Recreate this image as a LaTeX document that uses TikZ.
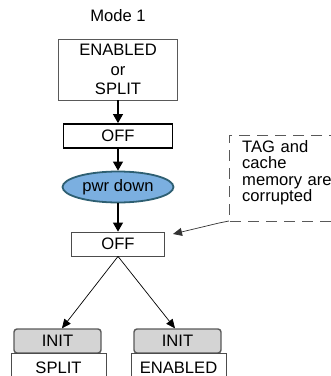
\documentclass[tikz,border=0pt]{standalone}
\usepackage{fontspec}
\setmainfont{Liberation Sans}
\usetikzlibrary{shapes.geometric,arrows.meta}
\definecolor{ellfill}{HTML}{7BAFE0}
\definecolor{elldraw}{HTML}{2E5F72}
\definecolor{initfill}{HTML}{D4D4D4}
\begin{document}
\begin{tikzpicture}[x=1pt,y=-1pt,
  every node/.style={font=\fontsize{16.6}{19.5}\selectfont, inner sep=0pt, align=center},
  grbox/.style={draw=black!65, line width=0.9pt, minimum height=0pt},
  offbox/.style={draw=black, line width=1.8pt},
  thinbox/.style={draw=black!70, line width=0.8pt},
  initbox/.style={draw=black!65, fill=initfill, rounded corners=3pt, line width=1.4pt},
  flow/.style={-{Triangle[length=9pt,width=10pt]}, line width=1.1pt},
  thinarr/.style={-{Triangle[length=9pt,width=8pt]}, line width=0.7pt}]
\useasboundingbox (0,0) rectangle (331,376);
\node (mode) at (118,16) {Mode 1};
\node[grbox, minimum width=119pt, minimum height=61pt] (top) at (118,69.5) {ENABLED\\or\\SPLIT};
\node[offbox, minimum width=109pt, minimum height=24pt] (off1) at (118,136) {OFF};
\node[ellipse, draw=elldraw, fill=ellfill, line width=1.8pt, minimum width=111pt, minimum height=31pt] (pwr) at (118,187) {pwr down};
\node[thinbox, minimum width=93pt, minimum height=24pt] (off2) at (118,244) {OFF};
\draw[dashed, dash pattern=on 11pt off 7pt, draw=black!65, line width=0.9pt] (340,135) -- (229,135) -- (229,221) -- (340,221);
\node[align=left, anchor=north west, text width=100pt, font=\fontsize{16.6}{16.5}\selectfont] (note) at (242,140) {TAG and\\cache\\memory are\\corrupted};
\coordinate (notec) at (229,221);
\coordinate (tip) at (173,234);
\draw[thinarr, draw=black!80] (notec) -- (219,223) -- (tip);
\node[initbox, minimum width=87pt, minimum height=24pt] (init1) at (57.5,341) {INIT};
\node[initbox, minimum width=87pt, minimum height=24pt] (init2) at (177.5,341) {INIT};
\node[thinbox, minimum width=95pt, minimum height=30pt, anchor=north] (split) at (58.5,353) {};
\node[anchor=base] at (58.5,373) {SPLIT};
\node[thinbox, minimum width=95pt, minimum height=30pt, anchor=north] (enab) at (178.5,353) {};
\node[anchor=base] at (178.5,373) {ENABLED};
\draw[flow] (top.south) -- (off1.north);
\draw[flow] (off1.south) -- (pwr.north);
\draw[flow] (pwr.south) -- (off2.north);
\draw[thinarr] (off2.south) -- ([xshift=4.5pt]init1.north);
\draw[thinarr] (off2.south) -- ([xshift=-2.5pt]init2.north);
\end{tikzpicture}
\end{document}
